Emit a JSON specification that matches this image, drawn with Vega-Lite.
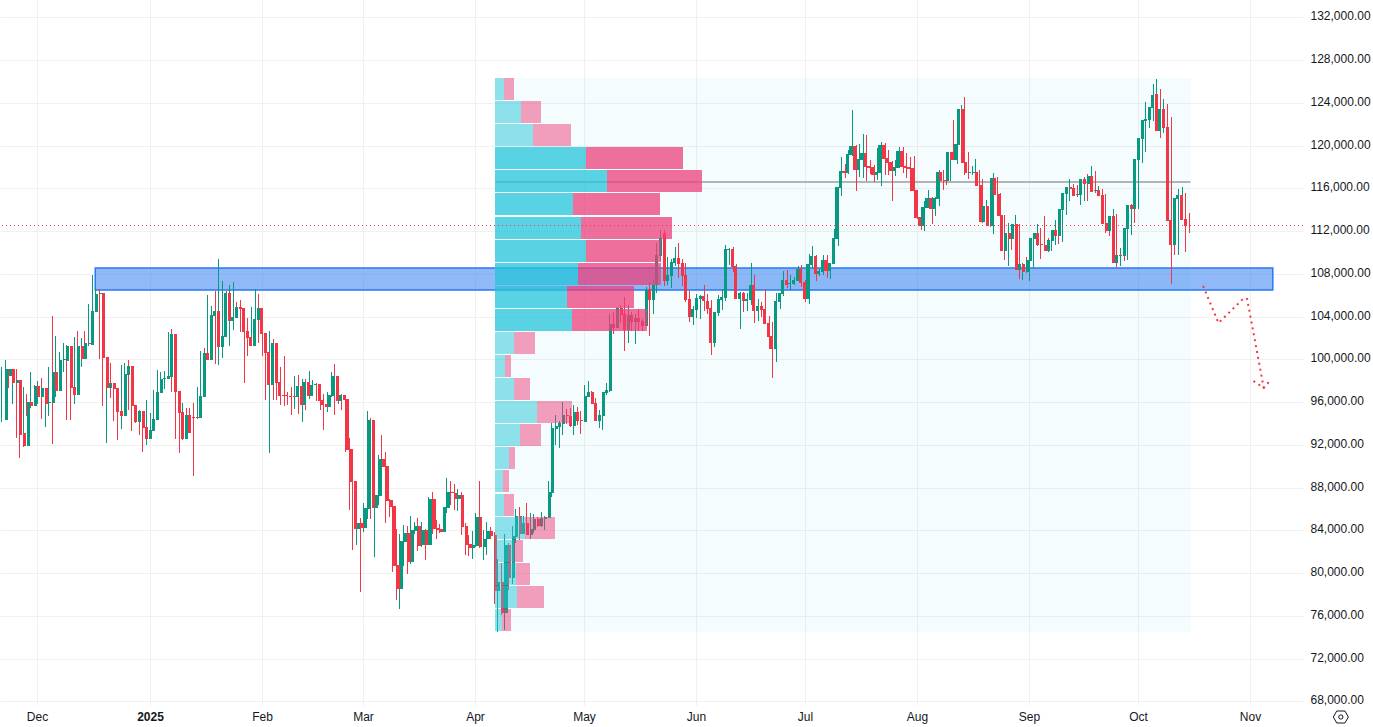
{"$schema":"https://vega.github.io/schema/vega-lite/v6.json","width":1303,"height":705,"autosize":{"type":"none"},"padding":{"left":0,"top":0,"right":70,"bottom":22},"background":"#ffffff","config":{"view":{"stroke":null}},"resolve":{"scale":{"x":"independent"}},
"datasets":{
"box":[{"start":"2025-04-06T12:00:00Z","end":"2025-10-15T12:00:00Z","top":126320,"bottom":74480}],
"zone":[{"start":"2024-12-17T00:00:00Z","end":"2025-11-07T05:00:00Z","top":108514,"bottom":106455}],
"poc":[{"start":"2025-04-06T12:00:00Z","end":"2025-10-15T12:00:00Z","price":116590}],
"last":[{"price":112537}],
"path":[{"p":"a","d":"2025-10-18T23:00:00Z","v":106885},{"p":"a","d":"2025-10-23T05:00:00Z","v":103424},{"p":"a","d":"2025-10-30T06:00:00Z","v":105735},{"p":"a","d":"2025-10-31T03:00:00Z","v":105640},{"p":"a","d":"2025-11-04T17:00:00Z","v":97314},{"p":"b","d":"2025-11-01T21:00:00Z","v":97940},{"p":"b","d":"2025-11-04T17:00:00Z","v":97314},{"p":"b","d":"2025-11-06T14:00:00Z","v":98062}],
"icon":[{"d":"2025-11-26T00:00:00Z","v":66530}],
"profile":[
{"top":126320,"bottom":124260,"base":0,"up":9,"total":19,"area":"other"},
{"top":124160,"bottom":122100,"base":0,"up":26,"total":46,"area":"other"},
{"top":122000,"bottom":119940,"base":0,"up":38,"total":76,"area":"other"},
{"top":119840,"bottom":117780,"base":0,"up":91,"total":188,"area":"value"},
{"top":117680,"bottom":115620,"base":0,"up":112,"total":207,"area":"value"},
{"top":115520,"bottom":113460,"base":0,"up":78,"total":165,"area":"value"},
{"top":113360,"bottom":111300,"base":0,"up":86,"total":177,"area":"value"},
{"top":111200,"bottom":109140,"base":0,"up":91,"total":166,"area":"value"},
{"top":109040,"bottom":106980,"base":0,"up":83,"total":166,"area":"value"},
{"top":106880,"bottom":104820,"base":0,"up":72,"total":139,"area":"value"},
{"top":104720,"bottom":102660,"base":0,"up":77,"total":152,"area":"value"},
{"top":102560,"bottom":100500,"base":0,"up":19,"total":40,"area":"other"},
{"top":100400,"bottom":98340,"base":0,"up":10,"total":16,"area":"other"},
{"top":98240,"bottom":96180,"base":0,"up":19,"total":35,"area":"other"},
{"top":96080,"bottom":94020,"base":0,"up":42,"total":77,"area":"other"},
{"top":93920,"bottom":91860,"base":0,"up":25,"total":46,"area":"other"},
{"top":91760,"bottom":89700,"base":0,"up":14,"total":20,"area":"other"},
{"top":89600,"bottom":87540,"base":0,"up":8,"total":14,"area":"other"},
{"top":87440,"bottom":85380,"base":0,"up":9,"total":19,"area":"other"},
{"top":85280,"bottom":83220,"base":0,"up":30,"total":60,"area":"other"},
{"top":83120,"bottom":81060,"base":0,"up":19,"total":28,"area":"other"},
{"top":80960,"bottom":78900,"base":0,"up":21,"total":35,"area":"other"},
{"top":78800,"bottom":76740,"base":0,"up":22,"total":49,"area":"other"},
{"top":76640,"bottom":74580,"base":0,"up":7,"total":16,"area":"other"}],
"candles":[
{"d":"2024-11-21","o":94320,"h":99310,"l":94160,"c":99090},
{"d":"2024-11-22","o":98440,"h":99930,"l":97220,"c":99090},
{"d":"2024-11-23","o":99090,"h":99090,"l":97280,"c":97780},
{"d":"2024-11-24","o":97780,"h":98720,"l":95820,"c":98060},
{"d":"2024-11-25","o":98060,"h":99090,"l":92670,"c":92920},
{"d":"2024-11-26","o":93100,"h":95040,"l":90760,"c":91920},
{"d":"2024-11-27","o":91920,"h":97410,"l":91820,"c":95970},
{"d":"2024-11-28","o":95970,"h":96750,"l":94690,"c":95630},
{"d":"2024-11-29","o":95630,"h":98810,"l":95440,"c":97500},
{"d":"2024-11-30","o":97500,"h":97590,"l":96350,"c":96470},
{"d":"2024-12-01","o":96470,"h":97970,"l":95820,"c":97310},
{"d":"2024-12-02","o":97310,"h":98250,"l":94410,"c":95820},
{"d":"2024-12-03","o":95910,"h":97310,"l":93660,"c":96000},
{"d":"2024-12-04","o":95910,"h":99280,"l":94690,"c":98810},
{"d":"2024-12-05","o":98810,"h":104050,"l":92070,"c":97030},
{"d":"2024-12-06","o":97030,"h":102180,"l":96470,"c":99930},
{"d":"2024-12-07","o":99930,"h":100680,"l":99090,"c":100030},
{"d":"2024-12-08","o":99840,"h":101520,"l":98810,"c":101240},
{"d":"2024-12-09","o":101240,"h":101340,"l":94320,"c":97310},
{"d":"2024-12-10","o":97410,"h":98440,"l":94320,"c":96660},
{"d":"2024-12-11","o":96660,"h":102090,"l":95820,"c":101240},
{"d":"2024-12-12","o":101240,"h":102650,"l":99370,"c":100030},
{"d":"2024-12-13","o":100030,"h":101990,"l":99280,"c":101520},
{"d":"2024-12-14","o":101520,"h":102650,"l":100680,"c":101430},
{"d":"2024-12-15","o":101340,"h":105170,"l":101240,"c":104520},
{"d":"2024-12-16","o":104460,"h":107890,"l":103300,"c":106110},
{"d":"2024-12-17","o":106110,"h":106760,"l":105360,"c":106200},
{"d":"2024-12-18","o":106200,"h":106580,"l":100030,"c":100120},
{"d":"2024-12-19","o":100210,"h":102830,"l":95630,"c":97310},
{"d":"2024-12-20","o":97310,"h":98160,"l":92170,"c":97780},
{"d":"2024-12-21","o":97780,"h":99650,"l":96380,"c":97220},
{"d":"2024-12-22","o":97310,"h":97410,"l":94230,"c":95070},
{"d":"2024-12-23","o":95160,"h":95300,"l":92450,"c":94690},
{"d":"2024-12-24","o":94690,"h":99470,"l":93480,"c":98620},
{"d":"2024-12-25","o":98530,"h":99650,"l":97590,"c":99370},
{"d":"2024-12-26","o":99370,"h":99930,"l":95260,"c":95630},
{"d":"2024-12-27","o":95720,"h":97410,"l":93290,"c":94130},
{"d":"2024-12-28","o":94130,"h":95260,"l":94040,"c":95160},
{"d":"2024-12-29","o":95160,"h":95260,"l":92920,"c":93570},
{"d":"2024-12-30","o":93660,"h":94970,"l":91320,"c":92540},
{"d":"2024-12-31","o":92540,"h":96190,"l":91980,"c":93380},
{"d":"2025-01-01","o":93290,"h":94970,"l":92820,"c":94410},
{"d":"2025-01-02","o":94320,"h":97130,"l":94230,"c":96940},
{"d":"2025-01-03","o":96850,"h":99000,"l":96570,"c":98160},
{"d":"2025-01-04","o":98160,"h":98810,"l":97590,"c":98250},
{"d":"2025-01-05","o":98160,"h":98900,"l":97220,"c":98440},
{"d":"2025-01-06","o":98340,"h":102550,"l":98340,"c":102370},
{"d":"2025-01-07","o":102370,"h":102830,"l":96940,"c":96940},
{"d":"2025-01-08","o":97030,"h":97310,"l":92540,"c":94970},
{"d":"2025-01-09","o":95070,"h":95820,"l":91230,"c":92540},
{"d":"2025-01-10","o":92540,"h":95910,"l":92450,"c":94790},
{"d":"2025-01-11","o":94790,"h":95440,"l":93010,"c":93100},
{"d":"2025-01-12","o":94600,"h":95440,"l":93380,"c":94510},
{"d":"2025-01-13","o":94600,"h":95910,"l":89080,"c":94510},
{"d":"2025-01-14","o":94510,"h":97410,"l":94410,"c":96570},
{"d":"2025-01-15","o":96470,"h":100780,"l":96470,"c":100590},
{"d":"2025-01-16","o":100590,"h":101060,"l":97310,"c":99930},
{"d":"2025-01-17","o":99930,"h":106010,"l":99930,"c":104140},
{"d":"2025-01-18","o":104050,"h":104990,"l":102180,"c":104520},
{"d":"2025-01-19","o":104520,"h":106390,"l":99560,"c":101150},
{"d":"2025-01-20","o":101150,"h":109380,"l":99470,"c":102180},
{"d":"2025-01-21","o":102090,"h":107330,"l":100120,"c":106200},
{"d":"2025-01-22","o":106200,"h":106390,"l":103120,"c":103580},
{"d":"2025-01-23","o":103580,"h":106950,"l":101240,"c":103960},
{"d":"2025-01-24","o":103860,"h":107230,"l":102740,"c":104890},
{"d":"2025-01-25","o":104890,"h":105390,"l":104140,"c":104700},
{"d":"2025-01-26","o":104800,"h":105550,"l":102550,"c":102550},
{"d":"2025-01-27","o":102650,"h":103300,"l":97780,"c":101990},
{"d":"2025-01-28","o":102090,"h":103860,"l":100310,"c":101240},
{"d":"2025-01-29","o":101240,"h":104890,"l":101240,"c":103770},
{"d":"2025-01-30","o":103680,"h":106580,"l":103300,"c":104800},
{"d":"2025-01-31","o":104800,"h":106110,"l":101520,"c":102370},
{"d":"2025-02-01","o":102460,"h":102830,"l":100310,"c":100590},
{"d":"2025-02-02","o":100680,"h":101520,"l":96190,"c":97590},
{"d":"2025-02-03","o":97590,"h":102650,"l":91230,"c":101520},
{"d":"2025-02-04","o":101520,"h":101900,"l":96190,"c":97780},
{"d":"2025-02-05","o":97870,"h":99280,"l":96190,"c":96570},
{"d":"2025-02-06","o":96660,"h":99280,"l":95720,"c":96570},
{"d":"2025-02-07","o":96660,"h":100310,"l":95630,"c":96570},
{"d":"2025-02-08","o":96570,"h":96940,"l":95720,"c":96470},
{"d":"2025-02-09","o":96570,"h":97410,"l":94790,"c":96470},
{"d":"2025-02-10","o":96470,"h":98440,"l":95350,"c":97500},
{"d":"2025-02-11","o":97500,"h":98530,"l":94880,"c":95720},
{"d":"2025-02-12","o":95720,"h":98160,"l":94130,"c":97870},
{"d":"2025-02-13","o":97870,"h":98160,"l":95260,"c":96570},
{"d":"2025-02-14","o":96570,"h":98900,"l":96280,"c":97590},
{"d":"2025-02-15","o":97590,"h":98060,"l":97310,"c":97690},
{"d":"2025-02-16","o":97690,"h":97780,"l":96100,"c":96100},
{"d":"2025-02-17","o":96190,"h":97130,"l":95260,"c":95720},
{"d":"2025-02-18","o":95820,"h":96750,"l":93380,"c":95530},
{"d":"2025-02-19","o":95530,"h":96940,"l":95070,"c":96660},
{"d":"2025-02-20","o":96570,"h":98810,"l":96470,"c":98440},
{"d":"2025-02-21","o":98440,"h":99560,"l":94790,"c":96100},
{"d":"2025-02-22","o":96100,"h":97030,"l":95820,"c":96660},
{"d":"2025-02-23","o":96660,"h":96750,"l":95260,"c":96190},
{"d":"2025-02-24","o":96280,"h":96570,"l":91320,"c":91510},
{"d":"2025-02-25","o":91610,"h":92640,"l":85900,"c":88520},
{"d":"2025-02-26","o":88610,"h":89360,"l":82160,"c":84120},
{"d":"2025-02-27","o":84120,"h":87020,"l":82620,"c":84680},
{"d":"2025-02-28","o":84680,"h":85150,"l":78230,"c":84210},
{"d":"2025-03-01","o":84210,"h":86550,"l":83840,"c":86090},
{"d":"2025-03-02","o":85990,"h":95160,"l":85060,"c":94320},
{"d":"2025-03-03","o":94320,"h":94510,"l":85060,"c":86090},
{"d":"2025-03-04","o":86090,"h":89080,"l":81500,"c":87300},
{"d":"2025-03-05","o":87210,"h":91040,"l":86370,"c":90670},
{"d":"2025-03-06","o":90670,"h":92920,"l":87860,"c":89920},
{"d":"2025-03-07","o":90020,"h":91320,"l":84680,"c":86740},
{"d":"2025-03-08","o":86830,"h":86930,"l":85240,"c":86180},
{"d":"2025-03-09","o":86270,"h":86550,"l":80100,"c":80660},
{"d":"2025-03-10","o":80750,"h":84120,"l":77480,"c":78510},
{"d":"2025-03-11","o":78510,"h":83650,"l":76630,"c":83000},
{"d":"2025-03-12","o":82900,"h":84490,"l":80660,"c":83750},
{"d":"2025-03-13","o":83750,"h":84400,"l":79910,"c":81030},
{"d":"2025-03-14","o":81030,"h":85340,"l":80850,"c":84030},
{"d":"2025-03-15","o":83930,"h":84780,"l":83650,"c":84400},
{"d":"2025-03-16","o":84400,"h":85150,"l":82060,"c":82530},
{"d":"2025-03-17","o":82620,"h":84780,"l":82440,"c":84030},
{"d":"2025-03-18","o":84030,"h":84120,"l":81220,"c":82620},
{"d":"2025-03-19","o":82620,"h":87110,"l":82620,"c":86930},
{"d":"2025-03-20","o":86930,"h":87580,"l":83650,"c":84120},
{"d":"2025-03-21","o":84210,"h":84960,"l":83180,"c":84030},
{"d":"2025-03-22","o":84120,"h":84590,"l":83750,"c":83840},
{"d":"2025-03-23","o":83840,"h":86180,"l":83840,"c":86180},
{"d":"2025-03-24","o":86090,"h":88890,"l":85620,"c":87580},
{"d":"2025-03-25","o":87580,"h":88610,"l":86370,"c":87490},
{"d":"2025-03-26","o":87490,"h":88330,"l":85900,"c":86930},
{"d":"2025-03-27","o":86930,"h":87860,"l":85800,"c":87300},
{"d":"2025-03-28","o":87300,"h":87580,"l":83560,"c":84310},
{"d":"2025-03-29","o":84400,"h":84680,"l":81690,"c":82620},
{"d":"2025-03-30","o":82720,"h":83560,"l":81590,"c":82340},
{"d":"2025-03-31","o":82340,"h":83930,"l":81310,"c":82620},
{"d":"2025-04-01","o":82530,"h":85620,"l":82440,"c":85240},
{"d":"2025-04-02","o":85240,"h":88610,"l":82340,"c":82440},
{"d":"2025-04-03","o":82440,"h":84030,"l":81220,"c":83180},
{"d":"2025-04-04","o":83180,"h":84780,"l":81690,"c":83930},
{"d":"2025-04-05","o":83930,"h":84310,"l":83180,"c":83470},
{"d":"2025-04-06","o":83560,"h":83840,"l":77100,"c":78320},
{"d":"2025-04-07","o":78320,"h":81310,"l":74500,"c":79160},
{"d":"2025-04-08","o":79160,"h":80940,"l":76100,"c":76270},
{"d":"2025-04-09","o":76270,"h":83650,"l":74670,"c":82620},
{"d":"2025-04-10","o":82620,"h":82810,"l":78410,"c":79540},
{"d":"2025-04-11","o":79540,"h":84400,"l":78970,"c":83470},
{"d":"2025-04-12","o":83370,"h":85990,"l":82810,"c":85340},
{"d":"2025-04-13","o":85340,"h":86180,"l":83090,"c":83650},
{"d":"2025-04-14","o":83650,"h":85340,"l":83650,"c":84680},
{"d":"2025-04-15","o":84680,"h":86550,"l":83560,"c":83560},
{"d":"2025-04-16","o":83560,"h":85620,"l":83190,"c":84120},
{"d":"2025-04-17","o":84030,"h":85520,"l":83750,"c":85060},
{"d":"2025-04-18","o":85060,"h":85240,"l":84310,"c":84400},
{"d":"2025-04-19","o":84400,"h":85710,"l":84310,"c":85150},
{"d":"2025-04-20","o":85060,"h":85340,"l":84030,"c":85240},
{"d":"2025-04-21","o":85150,"h":88610,"l":85150,"c":87580},
{"d":"2025-04-22","o":87490,"h":94040,"l":87110,"c":93570},
{"d":"2025-04-23","o":93480,"h":94790,"l":91980,"c":93760},
{"d":"2025-04-24","o":93670,"h":94230,"l":91700,"c":94040},
{"d":"2025-04-25","o":93950,"h":96000,"l":92920,"c":94790},
{"d":"2025-04-26","o":94790,"h":95350,"l":93950,"c":94690},
{"d":"2025-04-27","o":94690,"h":95440,"l":93670,"c":93760},
{"d":"2025-04-28","o":93760,"h":95720,"l":92920,"c":95070},
{"d":"2025-04-29","o":95070,"h":95540,"l":93850,"c":94230},
{"d":"2025-04-30","o":94320,"h":95160,"l":93010,"c":94230},
{"d":"2025-05-01","o":94130,"h":97600,"l":94130,"c":96570},
{"d":"2025-05-02","o":96470,"h":97970,"l":96470,"c":96940},
{"d":"2025-05-03","o":96940,"h":97030,"l":95820,"c":95820},
{"d":"2025-05-04","o":95910,"h":96380,"l":94230,"c":94230},
{"d":"2025-05-05","o":94230,"h":95260,"l":93570,"c":94790},
{"d":"2025-05-06","o":94690,"h":96940,"l":93380,"c":96940},
{"d":"2025-05-07","o":96850,"h":97780,"l":96660,"c":97130},
{"d":"2025-05-08","o":97030,"h":104240,"l":96940,"c":103300},
{"d":"2025-05-09","o":103300,"h":104430,"l":102370,"c":102930},
{"d":"2025-05-10","o":102930,"h":104890,"l":102930,"c":104800},
{"d":"2025-05-11","o":104800,"h":105080,"l":103400,"c":104150},
{"d":"2025-05-12","o":104240,"h":105830,"l":100780,"c":102740},
{"d":"2025-05-13","o":102740,"h":105080,"l":101530,"c":104150},
{"d":"2025-05-14","o":104150,"h":104430,"l":102650,"c":103490},
{"d":"2025-05-15","o":103490,"h":104240,"l":101430,"c":103860},
{"d":"2025-05-16","o":103860,"h":104710,"l":102650,"c":103490},
{"d":"2025-05-17","o":103580,"h":103770,"l":102650,"c":103120},
{"d":"2025-05-18","o":103120,"h":106760,"l":103120,"c":106480},
{"d":"2025-05-19","o":106580,"h":107230,"l":102180,"c":105550},
{"d":"2025-05-20","o":105550,"h":107420,"l":104240,"c":106950},
{"d":"2025-05-21","o":106950,"h":110880,"l":106200,"c":109760},
{"d":"2025-05-22","o":109670,"h":112100,"l":109170,"c":111350},
{"d":"2025-05-23","o":111820,"h":112100,"l":106860,"c":107330},
{"d":"2025-05-24","o":107330,"h":109570,"l":106950,"c":107890},
{"d":"2025-05-25","o":107790,"h":109380,"l":106670,"c":109100},
{"d":"2025-05-26","o":109010,"h":110510,"l":108730,"c":109480},
{"d":"2025-05-27","o":109480,"h":110880,"l":107610,"c":108920},
{"d":"2025-05-28","o":109010,"h":109380,"l":106860,"c":107790},
{"d":"2025-05-29","o":107890,"h":109010,"l":105360,"c":105550},
{"d":"2025-05-30","o":105640,"h":106390,"l":103490,"c":103960},
{"d":"2025-05-31","o":103960,"h":104990,"l":103210,"c":104710},
{"d":"2025-06-01","o":104610,"h":106110,"l":103860,"c":105740},
{"d":"2025-06-02","o":105640,"h":106020,"l":103770,"c":105920},
{"d":"2025-06-03","o":105920,"h":106950,"l":104520,"c":105450},
{"d":"2025-06-04","o":105450,"h":106110,"l":104240,"c":104710},
{"d":"2025-06-05","o":104800,"h":105550,"l":100400,"c":101530},
{"d":"2025-06-06","o":101530,"h":104430,"l":101150,"c":104430},
{"d":"2025-06-07","o":104330,"h":106020,"l":104050,"c":105640},
{"d":"2025-06-08","o":105550,"h":106580,"l":104610,"c":105830},
{"d":"2025-06-09","o":105740,"h":110690,"l":105450,"c":110320},
{"d":"2025-06-10","o":110230,"h":110410,"l":108820,"c":110320},
{"d":"2025-06-11","o":110320,"h":110510,"l":108170,"c":108640},
{"d":"2025-06-12","o":108730,"h":108920,"l":105640,"c":105640},
{"d":"2025-06-13","o":105640,"h":106300,"l":102840,"c":106200},
{"d":"2025-06-14","o":106200,"h":106300,"l":104430,"c":105450},
{"d":"2025-06-15","o":105450,"h":106200,"l":104520,"c":105640},
{"d":"2025-06-16","o":105550,"h":109010,"l":105080,"c":106950},
{"d":"2025-06-17","o":106950,"h":107890,"l":103400,"c":104520},
{"d":"2025-06-18","o":104520,"h":105640,"l":103580,"c":104990},
{"d":"2025-06-19","o":104990,"h":105360,"l":103960,"c":104610},
{"d":"2025-06-20","o":104710,"h":106580,"l":103300,"c":103300},
{"d":"2025-06-21","o":103400,"h":104050,"l":100960,"c":102090},
{"d":"2025-06-22","o":102180,"h":103490,"l":98250,"c":100960},
{"d":"2025-06-23","o":100960,"h":106200,"l":99750,"c":105450},
{"d":"2025-06-24","o":105360,"h":106200,"l":104710,"c":106200},
{"d":"2025-06-25","o":106110,"h":108260,"l":105920,"c":107420},
{"d":"2025-06-26","o":107420,"h":108360,"l":106670,"c":106950},
{"d":"2025-06-27","o":107050,"h":107890,"l":106480,"c":107140},
{"d":"2025-06-28","o":107050,"h":107700,"l":106950,"c":107420},
{"d":"2025-06-29","o":107330,"h":108730,"l":107330,"c":108450},
{"d":"2025-06-30","o":108450,"h":108820,"l":106760,"c":107140},
{"d":"2025-07-01","o":107230,"h":107420,"l":105360,"c":105640},
{"d":"2025-07-02","o":105640,"h":109850,"l":105170,"c":108920},
{"d":"2025-07-03","o":108820,"h":110600,"l":108450,"c":109670},
{"d":"2025-07-04","o":109670,"h":109760,"l":107330,"c":107980},
{"d":"2025-07-05","o":107980,"h":108450,"l":107790,"c":108260},
{"d":"2025-07-06","o":108170,"h":109760,"l":107890,"c":109290},
{"d":"2025-07-07","o":109290,"h":109760,"l":107610,"c":108260},
{"d":"2025-07-08","o":108260,"h":109010,"l":107510,"c":109010},
{"d":"2025-07-09","o":108920,"h":112190,"l":108920,"c":111350},
{"d":"2025-07-10","o":111260,"h":116120,"l":110600,"c":116120},
{"d":"2025-07-11","o":116030,"h":118930,"l":115280,"c":117620},
{"d":"2025-07-12","o":117620,"h":118270,"l":116960,"c":117430},
{"d":"2025-07-13","o":117430,"h":119580,"l":117340,"c":119210},
{"d":"2025-07-14","o":119120,"h":123330,"l":119020,"c":119960},
{"d":"2025-07-15","o":119960,"h":120050,"l":115750,"c":117710},
{"d":"2025-07-16","o":117710,"h":120140,"l":117060,"c":118740},
{"d":"2025-07-17","o":118650,"h":121080,"l":116960,"c":119300},
{"d":"2025-07-18","o":119300,"h":120990,"l":116680,"c":117990},
{"d":"2025-07-19","o":118090,"h":118650,"l":117340,"c":117900},
{"d":"2025-07-20","o":117990,"h":118180,"l":116590,"c":117240},
{"d":"2025-07-21","o":117240,"h":119770,"l":116780,"c":117520},
{"d":"2025-07-22","o":117430,"h":120330,"l":116210,"c":120050},
{"d":"2025-07-23","o":120050,"h":120240,"l":117240,"c":118740},
{"d":"2025-07-24","o":118830,"h":119580,"l":117240,"c":118370},
{"d":"2025-07-25","o":118460,"h":118550,"l":114810,"c":117620},
{"d":"2025-07-26","o":117620,"h":118650,"l":117150,"c":117990},
{"d":"2025-07-27","o":117900,"h":119860,"l":117900,"c":119490},
{"d":"2025-07-28","o":119490,"h":119860,"l":117430,"c":117990},
{"d":"2025-07-29","o":118090,"h":119300,"l":116960,"c":117900},
{"d":"2025-07-30","o":117990,"h":118930,"l":115750,"c":117810},
{"d":"2025-07-31","o":117900,"h":119020,"l":115650,"c":115750},
{"d":"2025-08-01","o":115840,"h":115840,"l":113130,"c":113220},
{"d":"2025-08-02","o":113310,"h":114060,"l":112100,"c":112470},
{"d":"2025-08-03","o":112470,"h":114810,"l":112000,"c":114250},
{"d":"2025-08-04","o":114160,"h":115840,"l":114160,"c":115090},
{"d":"2025-08-05","o":115090,"h":115190,"l":112660,"c":114060},
{"d":"2025-08-06","o":114060,"h":115190,"l":113410,"c":115090},
{"d":"2025-08-07","o":115000,"h":117710,"l":114340,"c":117520},
{"d":"2025-08-08","o":117520,"h":117710,"l":115840,"c":116680},
{"d":"2025-08-09","o":116780,"h":117990,"l":116310,"c":116680},
{"d":"2025-08-10","o":116680,"h":119400,"l":116680,"c":119400},
{"d":"2025-08-11","o":119400,"h":122390,"l":118650,"c":118650},
{"d":"2025-08-12","o":118650,"h":120430,"l":118270,"c":120140},
{"d":"2025-08-13","o":120050,"h":123790,"l":119020,"c":123420},
{"d":"2025-08-14","o":123420,"h":124540,"l":117240,"c":118370},
{"d":"2025-08-15","o":118460,"h":119400,"l":116870,"c":117430},
{"d":"2025-08-16","o":117430,"h":118090,"l":117240,"c":117520},
{"d":"2025-08-17","o":117430,"h":118740,"l":117340,"c":117520},
{"d":"2025-08-18","o":117520,"h":117710,"l":114720,"c":116210},
{"d":"2025-08-19","o":116310,"h":116870,"l":112750,"c":112850},
{"d":"2025-08-20","o":112850,"h":114900,"l":112470,"c":114340},
{"d":"2025-08-21","o":114340,"h":114900,"l":112380,"c":112470},
{"d":"2025-08-22","o":112470,"h":117430,"l":111720,"c":116960},
{"d":"2025-08-23","o":116960,"h":117060,"l":114440,"c":115370},
{"d":"2025-08-24","o":115470,"h":115560,"l":110690,"c":113410},
{"d":"2025-08-25","o":113500,"h":113500,"l":109290,"c":110130},
{"d":"2025-08-26","o":110130,"h":112750,"l":108730,"c":111820},
{"d":"2025-08-27","o":111820,"h":112660,"l":110230,"c":111260},
{"d":"2025-08-28","o":111260,"h":113500,"l":110130,"c":112660},
{"d":"2025-08-29","o":112660,"h":112660,"l":107510,"c":108350},
{"d":"2025-08-30","o":108350,"h":109010,"l":107420,"c":108920},
{"d":"2025-08-31","o":108920,"h":109570,"l":108070,"c":108170},
{"d":"2025-09-01","o":108170,"h":109950,"l":107330,"c":109290},
{"d":"2025-09-02","o":109200,"h":111820,"l":108510,"c":111350},
{"d":"2025-09-03","o":111260,"h":112660,"l":110600,"c":111820},
{"d":"2025-09-04","o":111820,"h":112290,"l":109380,"c":110690},
{"d":"2025-09-05","o":110790,"h":113410,"l":110230,"c":110690},
{"d":"2025-09-06","o":110690,"h":111350,"l":110040,"c":110130},
{"d":"2025-09-07","o":110130,"h":111630,"l":110130,"c":111160},
{"d":"2025-09-08","o":111070,"h":113030,"l":110690,"c":112100},
{"d":"2025-09-09","o":112100,"h":113310,"l":110790,"c":111540},
{"d":"2025-09-10","o":111540,"h":114440,"l":110980,"c":114060},
{"d":"2025-09-11","o":113970,"h":115650,"l":113500,"c":115560},
{"d":"2025-09-12","o":115470,"h":116870,"l":114810,"c":116120},
{"d":"2025-09-13","o":116120,"h":116400,"l":115280,"c":115930},
{"d":"2025-09-14","o":116030,"h":116310,"l":115190,"c":115280},
{"d":"2025-09-15","o":115370,"h":116870,"l":114440,"c":115470},
{"d":"2025-09-16","o":115370,"h":117060,"l":114810,"c":116870},
{"d":"2025-09-17","o":116870,"h":117340,"l":114810,"c":116400},
{"d":"2025-09-18","o":116400,"h":118090,"l":116220,"c":117150},
{"d":"2025-09-19","o":117150,"h":117620,"l":115560,"c":115650},
{"d":"2025-09-20","o":115750,"h":116220,"l":115560,"c":115840},
{"d":"2025-09-21","o":115840,"h":115930,"l":115190,"c":115280},
{"d":"2025-09-22","o":115370,"h":115470,"l":111820,"c":112660},
{"d":"2025-09-23","o":112750,"h":113410,"l":111540,"c":112000},
{"d":"2025-09-24","o":112000,"h":114060,"l":111160,"c":113410},
{"d":"2025-09-25","o":113410,"h":113600,"l":108640,"c":109010},
{"d":"2025-09-26","o":109010,"h":110410,"l":108730,"c":109760},
{"d":"2025-09-27","o":109760,"h":109850,"l":109200,"c":109670},
{"d":"2025-09-28","o":109670,"h":112380,"l":109290,"c":112290},
{"d":"2025-09-29","o":112190,"h":114530,"l":111630,"c":114440},
{"d":"2025-09-30","o":114440,"h":114910,"l":112750,"c":114060},
{"d":"2025-10-01","o":114060,"h":118740,"l":114060,"c":118740},
{"d":"2025-10-02","o":118650,"h":121170,"l":118370,"c":120710},
{"d":"2025-10-03","o":120610,"h":124080,"l":119400,"c":122390},
{"d":"2025-10-04","o":122300,"h":122950,"l":121640,"c":122480},
{"d":"2025-10-05","o":122390,"h":125760,"l":122300,"c":123610},
{"d":"2025-10-06","o":123510,"h":126200,"l":123140,"c":124730},
{"d":"2025-10-07","o":124820,"h":125290,"l":120710,"c":121360},
{"d":"2025-10-08","o":121360,"h":124360,"l":121170,"c":123420},
{"d":"2025-10-09","o":123420,"h":123890,"l":119770,"c":121640},
{"d":"2025-10-10","o":121740,"h":122670,"l":107050,"c":112940},
{"d":"2025-10-11","o":113030,"h":113500,"l":109760,"c":110690},
{"d":"2025-10-12","o":110690,"h":115930,"l":109760,"c":115090},
{"d":"2025-10-13","o":115000,"h":116120,"l":113780,"c":115370},
{"d":"2025-10-14","o":115370,"h":115560,"l":110040,"c":113030},
{"d":"2025-10-15","o":113130,"h":113690,"l":111820,"c":112470}
]},
"layer":[
{"data":{"name":"box"},"mark":{"type":"rect","fill":"#26C6DA","fillOpacity":0.05},
"encoding":{
"x":{"field":"start","type":"temporal","scale":{"type":"utc","round":true,"domain":["2024-11-20T16:48:00Z","2025-11-15T13:12:00Z"]},
"axis":{"title":null,"orient":"bottom","values":["2024-12-01","2025-01-01","2025-02-01","2025-03-01","2025-04-01","2025-05-01","2025-06-01","2025-07-01","2025-08-01","2025-09-01","2025-10-01","2025-11-01"],"labelExpr":"utcmonth(datum.value)===0?'2025':utcFormat(datum.value,'%b')","labelFontWeight":{"condition":{"test":"utcmonth(datum.value)===0","value":"bold"},"value":"normal"},"domain":false,"ticks":false,"labelPadding":6,"labelFont":"Liberation Sans","labelFontSize":12,"labelColor":"#131722","labelOverlap":false,"labelFlush":false,"grid":true,"gridColor":"#F0F0F0","gridWidth":1}},
"x2":{"field":"end"},
"y":{"field":"top","type":"quantitative","scale":{"domain":[67652,133619],"nice":false,"zero":false,"round":true},
"axis":{"title":null,"orient":"right","values":[68000,72000,76000,80000,84000,88000,92000,96000,100000,104000,108000,112000,116000,120000,124000,128000,132000],"format":",.2f","domain":false,"ticks":false,"labelPadding":7,"labelOffset":-2,"labelFont":"Liberation Sans","labelFontSize":12,"labelColor":"#131722","labelOverlap":false,"labelFlush":false,"grid":true,"gridColor":"#F0F0F0","gridWidth":1}},
"y2":{"field":"bottom"}}},
{"data":{"name":"zone"},"mark":{"type":"rect","fill":"#2979F0","fillOpacity":0.52,"stroke":"#2A78F5","strokeWidth":1.5},
"encoding":{
"x":{"field":"start","type":"temporal","scale":{"type":"utc","domain":["2024-11-20T16:48:00Z","2025-11-15T13:12:00Z"]},"axis":null},
"x2":{"field":"end"},
"y":{"field":"top","type":"quantitative","scale":{"domain":[67652,133619],"nice":false,"zero":false,"round":true}},
"y2":{"field":"bottom"}}},
{"data":{"name":"poc"},"mark":{"type":"rule","color":"#B2B5B8","strokeWidth":2},
"encoding":{
"x":{"field":"start","type":"temporal","scale":{"type":"utc","domain":["2024-11-20T16:48:00Z","2025-11-15T13:12:00Z"]},"axis":null},
"x2":{"field":"end"},
"y":{"field":"price","type":"quantitative","scale":{"domain":[67652,133619],"nice":false,"zero":false,"round":true}}}},
{"data":{"name":"candles"},"mark":{"type":"rule","strokeWidth":1,"xOffset":0.5},
"encoding":{
"x":{"field":"d","type":"temporal","scale":{"type":"utc","round":true,"domain":["2024-11-20T16:48:00Z","2025-11-15T13:12:00Z"]},"axis":null},
"y":{"field":"h","type":"quantitative","scale":{"domain":[67652,133619],"nice":false,"zero":false,"round":true}},
"y2":{"field":"l"},
"color":{"condition":{"test":"datum.c>=datum.o","value":"#089981"},"value":"#F23645"}}},
{"data":{"name":"candles"},"mark":{"type":"bar","size":3,"xOffset":0.5,"minBandSize":1},
"encoding":{
"x":{"field":"d","type":"temporal","scale":{"type":"utc","round":true,"domain":["2024-11-20T16:48:00Z","2025-11-15T13:12:00Z"]},"axis":null},
"y":{"field":"o","type":"quantitative","scale":{"domain":[67652,133619],"nice":false,"zero":false,"round":true}},
"y2":{"field":"c"},
"color":{"condition":{"test":"datum.c>=datum.o","value":"#089981"},"value":"#F23645"}}},
{"data":{"name":"profile"},"mark":{"type":"rect","fill":"#26C6DA"},
"encoding":{
"x":{"field":"base","type":"quantitative","scale":{"domain":[-495,808],"nice":false,"zero":false},"axis":null},
"x2":{"field":"up"},
"y":{"field":"top","type":"quantitative","scale":{"domain":[67652,133619],"nice":false,"zero":false,"round":true}},
"y2":{"field":"bottom"},
"opacity":{"condition":{"test":"datum.area==='value'","value":0.75},"value":0.5}}},
{"data":{"name":"profile"},"mark":{"type":"rect","fill":"#EC407A"},
"encoding":{
"x":{"field":"up","type":"quantitative","scale":{"domain":[-495,808],"nice":false,"zero":false},"axis":null},
"x2":{"field":"total"},
"y":{"field":"top","type":"quantitative","scale":{"domain":[67652,133619],"nice":false,"zero":false,"round":true}},
"y2":{"field":"bottom"},
"opacity":{"condition":{"test":"datum.area==='value'","value":0.75},"value":0.5}}},
{"data":{"name":"last"},"mark":{"type":"rule","color":"#F23645","strokeWidth":1,"strokeDash":[1,3],"yOffset":0.5},
"encoding":{
"y":{"field":"price","type":"quantitative","scale":{"domain":[67652,133619],"nice":false,"zero":false,"round":true}}}},
{"data":{"name":"path"},"mark":{"type":"line","color":"#F23645","strokeWidth":2,"strokeDash":[2,4]},
"encoding":{
"x":{"field":"d","type":"temporal","scale":{"type":"utc","domain":["2024-11-20T16:48:00Z","2025-11-15T13:12:00Z"]},"axis":null},
"y":{"field":"v","type":"quantitative","scale":{"domain":[67652,133619],"nice":false,"zero":false,"round":true}},
"detail":{"field":"p"}}},
{"data":{"name":"icon"},"mark":{"type":"point","shape":"M-1,0L-0.55,-0.8L0.55,-0.8L1,0L0.55,0.8L-0.55,0.8Z","size":225,"filled":false,"stroke":"#131722","strokeWidth":1,"opacity":1},
"encoding":{
"x":{"field":"d","type":"temporal","scale":{"type":"utc","domain":["2024-11-20T16:48:00Z","2025-11-15T13:12:00Z"]},"axis":null},
"y":{"field":"v","type":"quantitative","scale":{"domain":[67652,133619],"nice":false,"zero":false,"round":true}}}},
{"data":{"name":"icon"},"mark":{"type":"point","shape":"circle","size":18,"filled":false,"stroke":"#131722","strokeWidth":1,"opacity":1},
"encoding":{
"x":{"field":"d","type":"temporal","scale":{"type":"utc","domain":["2024-11-20T16:48:00Z","2025-11-15T13:12:00Z"]},"axis":null},
"y":{"field":"v","type":"quantitative","scale":{"domain":[67652,133619],"nice":false,"zero":false,"round":true}}}}
]}
